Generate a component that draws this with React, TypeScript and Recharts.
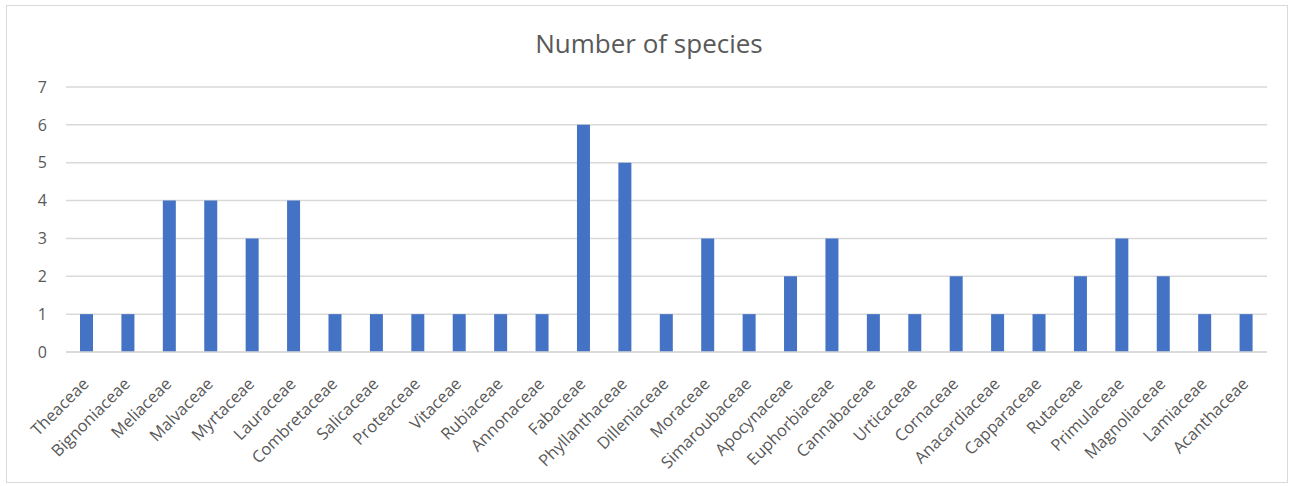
import { Bar, BarChart, CartesianGrid, XAxis, YAxis } from "recharts";

const families = [
  "Theaceae", "Bignoniaceae", "Meliaceae", "Malvaceae", "Myrtaceae", "Lauraceae",
  "Combretaceae", "Salicaceae", "Proteaceae", "Vitaceae", "Rubiaceae", "Annonaceae",
  "Fabaceae", "Phyllanthaceae", "Dilleniaceae", "Moraceae", "Simaroubaceae",
  "Apocynaceae", "Euphorbiaceae", "Cannabaceae", "Urticaceae", "Cornaceae",
  "Anacardiaceae", "Capparaceae", "Rutaceae", "Primulaceae", "Magnoliaceae",
  "Lamiaceae", "Acanthaceae",
];
const speciesCounts = [
  1, 1, 4, 4, 3, 4, 1, 1, 1, 1, 1, 1, 6, 5, 1, 3, 1, 2, 3, 1, 1, 2, 1, 1, 2, 3, 2, 1, 1,
];
const yTicks = [0, 1, 2, 3, 4, 5, 6, 7];

const data = families.map((name, i) => ({ name, value: speciesCounts[i] }));

const font = "'Open Sans', sans-serif";
const textColor = "#595959";

function FamilyTick({ x, y, payload }: any) {
  const tx = x + 3;
  const ty = y + 25;
  return (
    <text
      x={tx}
      y={ty}
      transform={`rotate(-45, ${tx}, ${ty})`}
      textAnchor="end"
      fill={textColor}
      fontSize={16.5}
      fontFamily={font}
    >
      {payload.value}
    </text>
  );
}

export default function App() {
  return (
    <div
      style={{
        position: "absolute",
        left: 0,
        top: 0,
        width: 1292,
        height: 486,
        background: "#fff",
      }}
    >
      <div
        style={{
          position: "absolute",
          left: 6,
          top: 5,
          width: 1280,
          height: 476,
          border: "1px solid #d9d9d9",
        }}
      />
      <div
        style={{
          position: "absolute",
          left: 0,
          top: 25,
          width: 1298,
          textAlign: "center",
          fontFamily: font,
          fontSize: 26,
          lineHeight: "36px",
          color: textColor,
        }}
      >
        Number of species
      </div>
      <div style={{ position: "absolute", left: 0, top: 0 }}>
        <BarChart
          width={1292}
          height={486}
          data={data}
          margin={{ top: 87, right: 25, bottom: 0, left: 0 }}
          barCategoryGap={0}
        >
          <CartesianGrid vertical={false} stroke="#d9d9d9" strokeWidth={1.5} />
          <XAxis
            dataKey="name"
            interval={0}
            tickLine={false}
            axisLine={{ stroke: "#d9d9d9", strokeWidth: 1.5 }}
            tick={<FamilyTick />}
            height={134}
          />
          <YAxis
            width={66}
            domain={[0, 7]}
            ticks={yTicks}
            interval={0}
            tickLine={false}
            axisLine={false}
            tickSize={0}
            tickMargin={19}
            tick={{ fill: textColor, fontSize: 16, fontFamily: font }}
          />
          <Bar dataKey="value" fill="#4472C4" barSize={13} isAnimationActive={false} />
        </BarChart>
      </div>
    </div>
  );
}
